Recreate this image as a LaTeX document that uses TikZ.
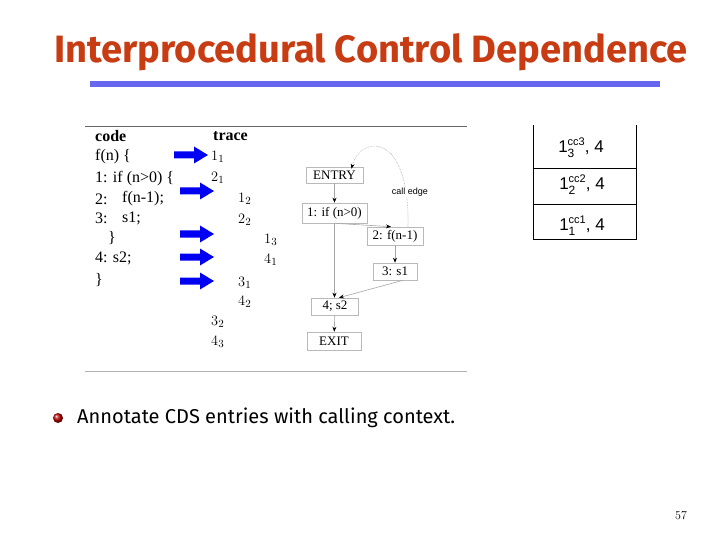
\documentclass[tikz,border=0pt]{standalone}
\usepackage{fontspec}
\setmainfont{Liberation Serif}
\newfontfamily\titlefont{Fira Sans}
\newfontfamily\arialfont{Liberation Sans}
\newfontfamily\lmfont{Latin Modern Roman}
\usetikzlibrary{arrows.meta}
\definecolor{titlered}{RGB}{200,60,20}
\definecolor{barblue}{RGB}{102,102,238}
\newcommand{\ctxentry}[1]{1\rlap{\raisebox{-5pt}{\fontsize{12}{12}\selectfont #1}}\raisebox{7pt}{\fontsize{11}{11}\selectfont cc#1}, 4}
\begin{document}
\begin{tikzpicture}[x=1pt,y=-1pt,
  codetxt/.style={anchor=west,inner sep=0pt,font=\fontsize{16}{18}\selectfont},
  trtxt/.style={anchor=west,inner sep=0pt,font=\lmfont\fontsize{15}{17}\selectfont},
  cfgbox/.style={draw=gray!55,line width=0.6pt,inner sep=0pt,font=\fontsize{13}{14}\selectfont},
  cfgedge/.style={draw=gray!70,line width=0.6pt,-{Stealth[length=5pt,width=4pt,black]}},
  fatarrow/.style={fill=blue!95!black,draw=none},
  stacktxt/.style={font=\arialfont\fontsize{17}{19}\selectfont,inner sep=0pt}]
\useasboundingbox (0,0) rectangle (720,540);
% title
\node[font=\titlefont, text=titlered, inner sep=0pt] (title) at (371,52)
  {\resizebox{633pt}{!}{\bfseries Interprocedural Control Dependence}};
\fill[barblue] (90,81) rectangle (660,87);
% panel
\draw[gray!80!black,line width=0.8pt] (85,126) -- (467,126);
\draw[gray!60,line width=0.8pt] (85,371) -- (467,371);
% code
\node[codetxt] (code) at (95,136) {\bfseries code};
\node[codetxt] (c0) at (95,157) {f(n) \{};
\node[codetxt] (c1) at (95,179) {1: if (n>0) \{};
\node[codetxt] (c2) at (95,199) {2:};
\node[codetxt] (c2b) at (122,199) {f(n-1);};
\node[codetxt] (c3) at (95,218) {3:};
\node[codetxt] (c3b) at (122,218) {s1;};
\node[codetxt] (c4) at (108,238) {\}};
\node[codetxt] (c5) at (95,258) {4: s2;};
\node[codetxt] (c6) at (95,280) {\}};
% trace
\node[codetxt] (trace) at (213,136) {\bfseries trace};
\node[trtxt] (t1) at (211,157) {$1_1$};
\node[trtxt] (t2) at (211,178) {$2_1$};
\node[trtxt] (t3) at (238,199) {$1_2$};
\node[trtxt] (t4) at (238,220) {$2_2$};
\node[trtxt] (t5) at (264,240) {$1_3$};
\node[trtxt] (t6) at (264,260) {$4_1$};
\node[trtxt] (t7) at (238,283) {$3_1$};
\node[trtxt] (t8) at (238,302) {$4_2$};
\node[trtxt] (t9) at (211,322) {$3_2$};
\node[trtxt] (t10) at (211,342) {$4_3$};
% blue arrows
\foreach \x/\y in {174/155, 180/191, 180/234, 180/257, 180/281}{
  \fill[fatarrow] (\x,\y-3.5) -- (\x+20,\y-3.5) -- (\x+20,\y-8.5) -- (\x+34,\y)
     -- (\x+20,\y+8.5) -- (\x+20,\y+3.5) -- (\x,\y+3.5) -- cycle;
}
% CFG
\node[cfgbox,minimum width=57pt,minimum height=16pt] (entry) at (334.5,175) {ENTRY};
\node[cfgbox,minimum width=65pt,minimum height=20pt] (n1) at (334.5,213) {1: if (n>0)};
\node[cfgbox,minimum width=56pt,minimum height=18pt] (n2) at (395,236) {2: f(n-1)};
\node[cfgbox,minimum width=44pt,minimum height=17pt] (n3) at (395,271.5) {3: s1};
\node[cfgbox,minimum width=47pt,minimum height=17pt] (n4) at (335,306.5) {4; s2};
\node[cfgbox,minimum width=54pt,minimum height=18pt] (exit) at (334,341) {EXIT};
\draw[cfgedge] (entry) -- (n1);
\draw[cfgedge] (n1.south) -- (n4.north -| n1.south);
\draw[cfgedge] (n1.south) -- ([xshift=-4pt]n2.north);
\draw[cfgedge] (n2) -- (n3);
\draw[cfgedge] ([xshift=8pt]n3.south) -- ([xshift=4pt]n4.north);
\draw[cfgedge] (n4) -- (exit);
\coordinate (callstart) at ([xshift=13pt]n2.north);
\coordinate (callend) at ([xshift=17pt,yshift=-2pt]entry.north);
\draw[gray!70,densely dotted,line width=0.6pt,-{Stealth[length=5pt,width=4pt,black]}]
  (callstart) .. controls (410,130) and (360,135) .. (callend);
\node[font=\arialfont\fontsize{9}{10}\selectfont,inner sep=1pt,fill=white] (calllbl) at (410,192) {call edge};
% stack
\draw[black,line width=0.8pt] (533,125) -- (533,239) -- (636,239) -- (636,125);
\draw[black,line width=0.8pt] (533,168) -- (636,168);
\draw[black,line width=0.8pt] (533,204) -- (636,204);
\node[stacktxt] (s3) at (581,148) {\ctxentry{3}};
\node[stacktxt] (s2) at (582,185) {\ctxentry{2}};
\node[stacktxt] (s1) at (582,226) {\ctxentry{1}};
% bullet
\shade[ball color=red!75!black] (58,418) circle (5);
\node[anchor=west,inner sep=0pt,font=\titlefont] (note) at (77,418)
  {\resizebox{378pt}{!}{Annotate CDS entries with calling context.}};
% page number
\node[font=\lmfont\fontsize{12}{14}\selectfont,inner sep=0pt] (page) at (681,516) {57};
\end{tikzpicture}
\end{document}
